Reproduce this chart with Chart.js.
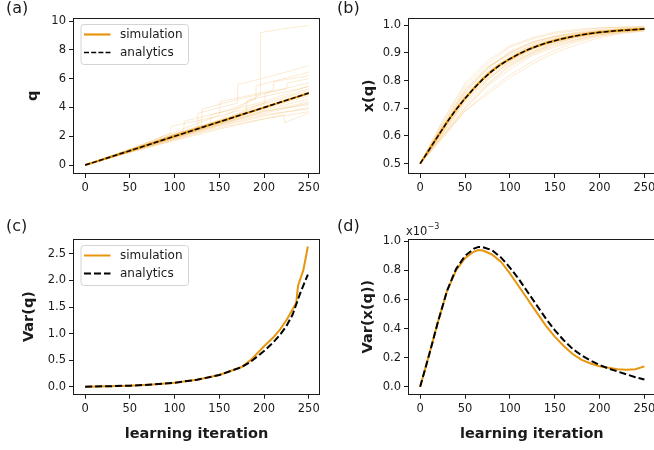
<!DOCTYPE html>
<html>
<head>
<meta charset="utf-8">
<script src="https://cdn.jsdelivr.net/npm/chart.js@4.4.1/dist/chart.umd.min.js"></script>
<style>
  html, body { margin: 0; padding: 0; background: #fff; }
  body { position: relative; width: 654px; height: 450px; overflow: hidden; font-family: "DejaVu Sans", sans-serif; color: #1a1a1a; }
  canvas { position: absolute; }
  .tag { position: absolute; font-size: 16px; line-height: 16px; }
  .mult { position: absolute; font-size: 11.5px; line-height: 12px; }
  .mult sup { font-size: 8px; position: relative; top: -1px; }
</style>
</head>
<body>
<canvas id="pa" width="330" height="205" style="left:0;top:0"></canvas>
<canvas id="pb" width="340" height="205" style="left:330px;top:0"></canvas>
<canvas id="pc" width="330" height="240" style="left:0;top:210px"></canvas>
<canvas id="pd" width="340" height="240" style="left:330px;top:210px"></canvas>
<div class="tag" style="left:6px;top:0">(a)</div>
<div class="tag" style="left:337px;top:0">(b)</div>
<div class="tag" style="left:6px;top:218px">(c)</div>
<div class="tag" style="left:337px;top:218px">(d)</div>
<div class="mult" style="left:406px;top:222px">x10<sup>−3</sup></div>
<script>
// ---- data ----
const iterTicks = [0, 50, 100, 150, 200, 250];
const qTicks = [0, 2, 4, 6, 8, 10];
const xqTicks = [0.5, 0.6, 0.7, 0.8, 0.9, 1.0];
const varQTicks = [0, 0.5, 1.0, 1.5, 2.0, 2.5];
const varXTicks = [0, 0.2, 0.4, 0.6, 0.8, 1.0];

// (a) mean q
const iterA = [0, 50, 100, 150, 200, 250];
const qSim = [0, 1.0, 2.0, 3.0, 4.0, 5.0];
const qAna = [0, 1.0, 2.0, 3.0, 4.0, 5.0];

// (a) single runs, [iteration, q]
const qRuns = [
  [[0,0],[50,1.05],[100,2.1],[150,3.15],[196,4.9],[196,9.2],[220,9.45],[250,9.7]],
  [[0,0],[50,1.0],[100,2.15],[126,2.6],[126,3.6],[170,4.3],[171,5.6],[210,6.2],[250,6.9]],
  [[0,0],[60,1.3],[110,2.4],[111,3.05],[160,3.8],[190,4.6],[191,5.5],[250,6.45]],
  [[0,0],[50,1.1],[100,2.3],[150,3.45],[151,4.4],[210,5.2],[211,5.8],[250,6.2]],
  [[0,0],[80,1.7],[130,2.8],[131,3.9],[180,4.7],[225,5.3],[226,5.7],[250,6.0]],
  [[0,0],[100,2.1],[150,3.1],[200,4.3],[201,5.0],[250,5.7]],
  [[0,0],[50,0.95],[100,1.95],[150,3.0],[180,3.7],[181,4.5],[250,5.45]],
  [[0,0],[100,2.05],[160,3.3],[200,4.2],[250,5.2]],
  [[0,0],[50,1.02],[100,2.0],[150,3.05],[200,4.0],[250,4.95]],
  [[0,0],[100,1.9],[200,3.8],[250,4.6]],
  [[0,0],[50,0.93],[100,1.85],[150,2.85],[200,3.6],[250,4.3]],
  [[0,0],[100,1.8],[150,2.7],[200,3.4],[250,4.0]],
  [[0,0],[50,0.9],[100,1.7],[150,2.5],[200,3.2],[250,3.7]],
  [[0,0],[100,1.75],[150,2.6],[222,3.5],[223,2.95],[250,3.6]],
  [[0,0],[50,1.08],[95,2.2],[96,2.7],[150,3.4],[200,4.3],[250,5.3]],
  [[0,0],[50,1.0],[100,2.05],[150,2.95],[200,3.9],[250,4.8]],
  [[0,0],[50,0.97],[100,1.9],[150,2.8],[200,3.7],[250,4.4]],
  [[0,0],[50,1.05],[100,2.1],[140,2.9],[141,3.5],[200,4.4],[250,5.5]],
  [[0,0],[50,0.95],[100,1.85],[150,2.75],[200,3.5],[250,3.9]],
  [[0,0],[50,1.0],[100,1.95],[150,2.9],[200,3.75],[250,4.2]]
];

// (b) mean x(q)
const iterB = [0,10,20,30,40,50,60,70,80,90,100,110,120,130,140,150,160,170,180,190,200,210,220,230,240,250];
const xSim = [.5,.55,.6,.65,.696,.736,.772,.806,.835,.859,.878,.896,.911,.924,.935,.944,.952,.959,.965,.97,.974,.977,.98,.982,.984,.987];
const xAna = [.5,.55,.6,.65,.695,.735,.772,.805,.834,.858,.878,.896,.911,.924,.935,.944,.952,.959,.965,.97,.974,.977,.98,.982,.984,.986];

// (b) single runs at iterRuns
const iterRuns = [0, 25, 50, 75, 100, 125, 150, 175, 200, 225, 250];
const xRuns = [
  [.5,.65,.78,.86,.92,.95,.97,.98,.99,.992,.994],
  [.5,.6,.70,.78,.84,.89,.92,.945,.963,.975,.982],
  [.5,.63,.76,.84,.90,.935,.958,.97,.98,.986,.99],
  [.5,.59,.69,.76,.82,.87,.91,.94,.96,.972,.98],
  [.5,.64,.77,.85,.895,.925,.95,.966,.977,.984,.988],
  [.5,.61,.72,.80,.87,.915,.94,.958,.972,.98,.985],
  [.5,.62,.75,.83,.89,.93,.955,.968,.978,.985,.989],
  [.5,.605,.71,.79,.855,.90,.93,.95,.965,.975,.983],
  [.5,.635,.755,.845,.905,.94,.96,.975,.984,.989,.992],
  [.5,.615,.735,.815,.875,.915,.945,.962,.975,.982,.987],
  [.5,.60,.69,.75,.81,.86,.90,.93,.955,.97,.978],
  [.5,.625,.745,.83,.885,.925,.95,.965,.976,.983,.988],
  [.5,.655,.79,.87,.925,.955,.975,.985,.99,.993,.995],
  [.5,.61,.73,.81,.865,.905,.935,.955,.97,.979,.985],
  [.5,.63,.74,.82,.87,.91,.94,.96,.972,.98,.986],
  [.5,.595,.70,.785,.85,.895,.925,.948,.966,.977,.984],
  [.5,.64,.765,.845,.90,.938,.96,.972,.98,.986,.99],
  [.5,.62,.725,.805,.86,.90,.935,.957,.97,.98,.985]
];

// (c) Var(q)
const iterVarSim = [0,25,50,75,100,125,150,175,185,200,210,218,225,232,236,238,244,249];
const varQSim = [0,0.008,0.02,0.04,0.075,0.13,0.22,0.37,0.5,0.76,0.92,1.08,1.25,1.46,1.58,1.9,2.2,2.64];
const iterVarAna = [0,25,50,75,100,125,150,175,185,200,210,218,225,232,240,245,249];
const varQAna = [0,0.008,0.02,0.04,0.075,0.13,0.22,0.37,0.47,0.67,0.83,0.98,1.14,1.36,1.74,1.95,2.11];

// (d) Var(x(q)), in units of 1e-3
const iterD = [0,10,20,30,40,50,60,65,70,80,90,100,110,120,130,140,150,160,170,180,190,200,210,220,230,240,250];
const varXSim = [0,0.22,0.45,0.66,0.8,0.885,0.93,0.94,0.937,0.91,0.86,0.78,0.69,0.6,0.51,0.42,0.345,0.28,0.225,0.185,0.16,0.14,0.13,0.12,0.117,0.12,0.14];
const varXAna = [0,0.22,0.45,0.66,0.81,0.9,0.95,0.962,0.96,0.94,0.89,0.82,0.74,0.65,0.56,0.47,0.39,0.32,0.26,0.215,0.18,0.15,0.125,0.105,0.085,0.065,0.05];

// ---- styling ----
const ink = '#1a1a1a';
const orange = '#e8960e';
const haze = 'rgba(232,150,14,0.19)';
Chart.defaults.font.family = 'DejaVu Sans';
const tickFont = { family: 'DejaVu Sans', size: 11.5 };
const titleFont = { family: 'DejaVu Sans', size: 14.5, weight: 'bold' };

const pts = (xs, ys) => xs.map((x, i) => ({ x, y: ys[i] }));

const frame = {
  id: 'frame',
  afterDatasetsDraw(chart) {
    const { ctx, chartArea: a } = chart;
    ctx.save();
    ctx.strokeStyle = ink;
    ctx.lineWidth = 1;
    ctx.strokeRect(Math.round(a.left) - 0.5, Math.round(a.top) - 0.5,
      Math.round(a.right) - Math.round(a.left) + 1, Math.round(a.bottom) - Math.round(a.top) + 1);
    ctx.restore();
  }
};

// matplotlib-like boxed legend inside the axes
const boxLegend = {
  id: 'boxLegend',
  afterDatasetsDraw(chart, args, o) {
    const { ctx, chartArea: a } = chart;
    const items = chart.data.datasets.filter(d => d.label).reverse();
    const x = a.left + o.x, y = a.top + o.y;
    ctx.save();
    ctx.beginPath();
    ctx.roundRect(x + 0.5, y + 0.5, o.w, o.h, 3);
    ctx.fillStyle = 'rgba(255,255,255,0.8)';
    ctx.fill();
    ctx.strokeStyle = '#d4d4d4';
    ctx.lineWidth = 1;
    ctx.stroke();
    ctx.font = '12px "DejaVu Sans"';
    ctx.textBaseline = 'middle';
    items.forEach((d, i) => {
      const ly = y + o.row0 + i * o.gap;
      ctx.beginPath();
      ctx.setLineDash(d.borderDash || []);
      ctx.strokeStyle = d.borderColor;
      ctx.lineWidth = d.borderWidth;
      ctx.moveTo(x + o.line0, ly);
      ctx.lineTo(x + o.line1, ly);
      ctx.stroke();
      ctx.setLineDash([]);
      ctx.fillStyle = ink;
      ctx.fillText(d.label, x + o.text, ly);
    });
    ctx.restore();
  }
};

function axis(dir, o) {
  return {
    type: 'linear',
    position: dir === 'x' ? 'bottom' : 'left',
    min: o.min,
    max: o.max,
    afterBuildTicks: s => { s.ticks = o.ticks.map(v => ({ value: v })); },
    afterFit: s => {
      if (dir === 'x') s.height = o.size; else s.width = o.size;
      s.paddingLeft = s.paddingRight = s.paddingTop = s.paddingBottom = 0;
    },
    grid: { drawOnChartArea: false, drawTicks: true, tickLength: 5, tickColor: ink, tickWidth: 1 },
    border: { display: false },
    ticks: { font: tickFont, color: ink, padding: 3, maxRotation: 0, autoSkip: false,
             callback: v => v.toFixed(o.dec) },
    title: o.title
      ? { display: true, text: o.title, font: titleFont, color: ink, padding: o.titlePad }
      : { display: false }
  };
}

function panel(id, cfg) {
  new Chart(document.getElementById(id), {
    type: 'line',
    data: { datasets: cfg.datasets },
    options: {
      responsive: false,
      animation: false,
      events: [],
      layout: { padding: cfg.pad },
      elements: { point: { radius: 0 }, line: { tension: 0 } },
      scales: { x: axis('x', cfg.x), y: axis('y', cfg.y) },
      plugins: { legend: { display: false }, tooltip: { enabled: false }, boxLegend: cfg.legend || false }
    },
    plugins: [frame, boxLegend]
  });
}

const legendGeom = { x: 6.5, y: 5.5, w: 107.5, h: 40, row0: 10.5, gap: 18, line0: 3.5, line1: 30, text: 39.5 };
const runStyle = { borderColor: haze, borderWidth: 1, pointRadius: 0 };

// (a)
panel('pa', {
  pad: { top: 18.5, right: 11, bottom: 0, left: 0 },
  x: { min: -12.45, max: 261.45, ticks: iterTicks, dec: 0, size: 32 },
  y: { min: -0.55, max: 10.18, ticks: qTicks, dec: 0, size: 74, title: 'q', titlePad: { top: 24.3, bottom: 0 } },
  legend: legendGeom,
  datasets: [
    { label: 'analytics', data: pts(iterA, qAna), borderColor: '#000', borderWidth: 1.5, borderDash: [5, 2.2] },
    { label: 'simulation', data: pts(iterA, qSim), borderColor: orange, borderWidth: 2.2 },
    ...qRuns.map(r => ({ data: r.map(([x, y]) => ({ x, y })), ...runStyle }))
  ]
});

// (b)
panel('pb', {
  pad: { top: 18.5, right: 15.3, bottom: 0, left: 0 },
  x: { min: -12.45, max: 261.45, ticks: iterTicks, dec: 0, size: 32 },
  y: { min: 0.466, max: 1.024, ticks: xqTicks, dec: 1, size: 79, title: 'x(q)', titlePad: { top: 30.3, bottom: 0 } },
  datasets: [
    { data: pts(iterB, xAna), borderColor: '#000', borderWidth: 1.5, borderDash: [5, 2.2] },
    { data: pts(iterB, xSim), borderColor: orange, borderWidth: 2.2 },
    ...xRuns.map(r => ({ data: pts(iterRuns, r), ...runStyle }))
  ]
});

// (c)
panel('pc', {
  pad: { top: 29.5, right: 11, bottom: 0, left: 0 },
  x: { min: -12.45, max: 261.45, ticks: iterTicks, dec: 0, size: 56.3, title: 'learning iteration', titlePad: { top: 0, bottom: 7.3 } },
  y: { min: -0.132, max: 2.772, ticks: varQTicks, dec: 1, size: 74, title: 'Var(q)', titlePad: { top: 21, bottom: 0 } },
  legend: legendGeom,
  datasets: [
    { label: 'analytics', data: pts(iterVarAna, varQAna), borderColor: '#000', borderWidth: 2, borderDash: [7, 3] },
    { label: 'simulation', data: pts(iterVarSim, varQSim), borderColor: orange, borderWidth: 2 }
  ]
});

// (d)
panel('pd', {
  pad: { top: 29.5, right: 15.3, bottom: 0, left: 0 },
  x: { min: -12.45, max: 261.45, ticks: iterTicks, dec: 0, size: 56.3, title: 'learning iteration', titlePad: { top: 0, bottom: 7.3 } },
  y: { min: -0.048, max: 1.013, ticks: varXTicks, dec: 1, size: 79, title: 'Var(x(q))', titlePad: { top: 29.6, bottom: 0 } },
  datasets: [
    { data: pts(iterD, varXAna), borderColor: '#000', borderWidth: 2, borderDash: [7, 3] },
    { data: pts(iterD, varXSim), borderColor: orange, borderWidth: 2 }
  ]
});
</script>
</body>
</html>
